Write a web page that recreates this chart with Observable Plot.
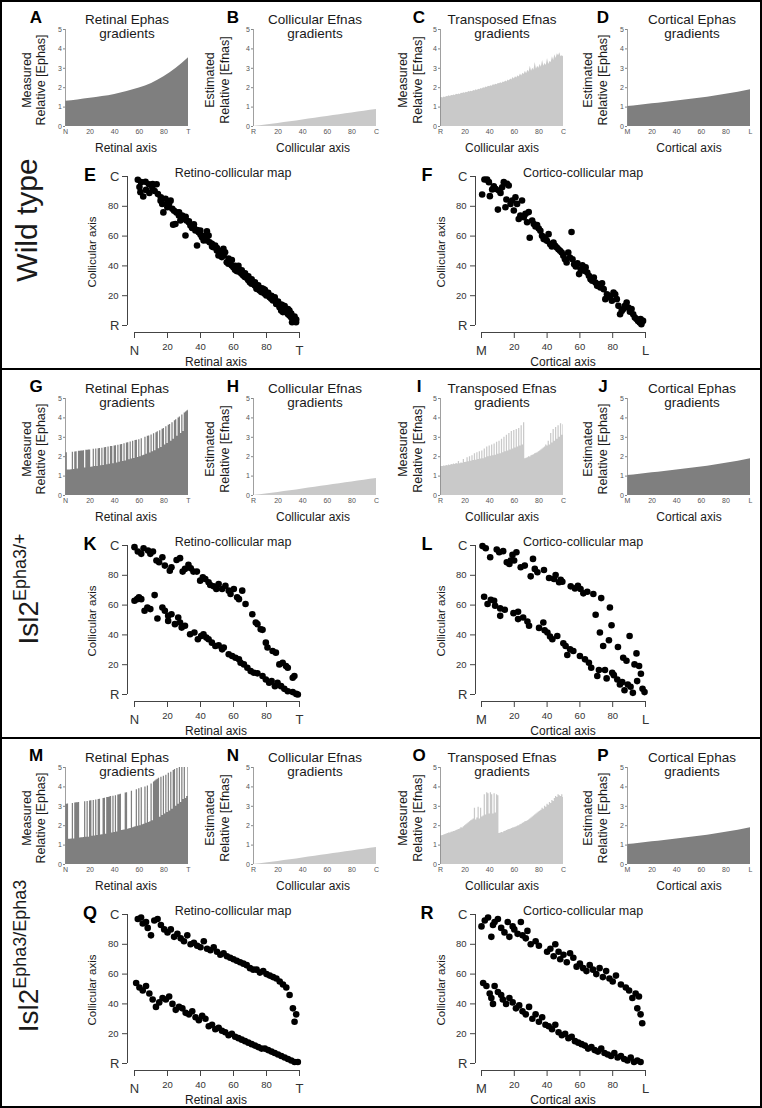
<!DOCTYPE html>
<html><head><meta charset="utf-8">
<script src="https://cdn.jsdelivr.net/npm/d3@7"></script>
<script src="https://cdn.jsdelivr.net/npm/@observablehq/plot@0.6"></script>
<style>
body{margin:0;background:#fff;}
#page{position:relative;width:762px;height:1108px;overflow:hidden;background:#fff;font-family:"Liberation Sans",Arial,Helvetica,sans-serif;}
.t{position:absolute;white-space:nowrap;line-height:1;font-weight:normal;}
#page svg{position:absolute;overflow:visible;}
.frame{position:absolute;left:0;top:0;width:762px;height:1108px;box-sizing:border-box;border:2px solid #000;pointer-events:none;}
.divider{position:absolute;left:0;width:762px;height:2px;background:#000;}
</style></head>
<body><div id="page"></div>
<script>
const FONT = '"Liberation Sans", Arial, Helvetica, sans-serif';
// ---------- tick labels ----------
const xTicks = [0, 20, 40, 60, 80, 100];
const retinalTickLabels = ["N", "20", "40", "60", "80", "T"];
const collicularTickLabels = ["R", "20", "40", "60", "80", "C"];
const corticalTickLabels = ["M", "20", "40", "60", "80", "L"];
const yTicksSmall = [0, 1, 2, 3, 4, 5];
const yTickLabelsSmall = ["0", "1", "2", "3", "4", "5"];
const mapEndTicks = [0, 100];
const mapMidTicks = [20, 40, 60, 80];
const mapMidLabels = ["20", "40", "60", "80"];
const mapYLabels = ["R", "C"];

// ---------- gradient data ----------
const smoothX = [0, 10, 20, 30, 40, 50, 60, 70, 80, 90, 100];
const retinalEphasWT = [1.30, 1.37, 1.45, 1.54, 1.65, 1.80, 1.98, 2.22, 2.56, 3.00, 3.55];
const collicularEfnas = [0.00, 0.08, 0.16, 0.24, 0.33, 0.42, 0.51, 0.60, 0.69, 0.78, 0.87];
const corticalEphas = [1.03, 1.10, 1.17, 1.24, 1.31, 1.39, 1.47, 1.56, 1.66, 1.77, 1.89];

const cellX = d3.range(101);
const transposedWT = [1.48,1.5,1.47,1.52,1.5,1.55,1.53,1.58,1.55,1.6,1.58,1.63,1.6,1.66,1.64,1.68,1.65,1.72,1.7,1.74,1.72,1.77,1.74,1.8,1.78,1.82,1.79,1.86,1.83,1.89,1.86,1.92,1.9,1.96,1.93,2.0,1.97,2.04,2.01,2.08,2.05,2.1,2.07,2.15,2.12,2.18,2.15,2.22,2.2,2.26,2.22,2.3,2.27,2.34,2.3,2.4,2.35,2.45,2.4,2.52,2.45,2.56,2.5,2.62,2.55,2.7,2.6,2.75,2.68,2.85,2.72,2.9,2.8,3.1,2.85,3.0,2.9,3.3,2.95,3.1,3.0,3.2,3.05,3.4,3.1,3.25,3.15,3.5,3.2,3.35,3.3,3.6,3.4,3.7,3.5,3.75,3.65,3.8,3.6,3.65,3.6];
const retinalEphasHet = [2.2,2.2,1.31,1.31,1.32,1.33,2.23,1.34,2.24,2.25,1.37,2.28,2.28,2.29,2.3,2.31,1.42,2.33,2.33,2.34,2.35,1.46,1.47,2.38,1.49,2.4,1.5,2.41,2.42,1.53,2.44,1.55,2.46,2.47,1.59,2.5,1.61,2.52,2.53,1.64,2.55,2.56,1.68,2.59,1.71,2.62,2.63,1.75,2.67,1.78,2.7,2.72,1.84,2.76,1.88,2.79,1.91,2.83,2.85,1.96,2.88,2.0,2.93,2.05,2.07,3.0,2.12,3.05,3.07,2.19,3.12,2.25,3.18,2.31,3.24,3.28,2.41,3.34,2.48,3.42,3.46,2.6,3.54,2.68,3.62,3.66,2.8,3.75,2.9,3.85,3.9,3.05,4.0,4.05,3.2,4.15,3.3,4.25,4.3,4.35,4.4];
const transposedHet = [1.48,1.5,1.49,1.52,1.51,1.55,1.53,1.57,1.55,1.6,1.58,1.62,1.6,1.65,1.62,1.75,1.64,1.68,1.66,1.85,1.7,1.72,1.95,1.74,2.0,1.77,2.05,1.8,2.15,1.82,2.2,1.85,2.25,1.88,2.3,1.9,2.4,1.95,2.5,2.0,2.55,2.02,2.6,2.05,2.65,2.08,2.75,2.12,2.8,2.15,2.9,2.2,3.0,2.25,3.1,2.3,3.2,2.35,3.3,2.4,3.35,2.45,3.4,2.5,3.45,2.55,3.6,2.6,3.75,1.9,1.92,1.95,2.0,1.98,2.05,2.08,2.1,2.15,2.18,2.2,2.25,2.3,2.35,2.4,2.45,2.5,2.6,2.55,2.8,2.6,3.2,2.7,3.4,2.8,3.5,2.9,3.6,3.0,3.7,3.1,3.65];
const retinalEphasHom = [3.1,3.1,3.12,1.3,1.3,1.31,3.15,1.32,3.17,3.18,3.18,3.2,1.37,1.38,1.38,1.39,3.23,1.4,3.25,1.41,3.27,3.28,1.45,3.3,1.47,3.32,1.49,3.35,3.36,1.52,1.53,3.4,3.42,1.56,3.45,3.46,3.48,3.5,1.62,3.52,1.65,3.55,1.68,3.58,3.6,3.62,1.75,1.77,1.78,3.68,3.7,1.82,1.84,1.86,3.78,1.9,1.92,1.94,3.85,1.97,3.9,2.0,3.95,2.05,2.07,4.0,2.12,4.05,2.17,2.2,4.15,2.25,4.25,4.3,4.35,4.4,4.45,2.44,4.5,2.52,4.55,2.6,4.6,2.68,4.7,2.76,4.75,2.85,4.85,4.9,3.0,4.95,3.1,5.0,3.2,5.0,3.35,5.0,3.4,3.5,5.0];
const transposedHom = [1.45,1.48,1.5,1.52,1.55,1.57,1.6,1.62,1.63,1.66,1.68,1.7,1.72,1.75,1.78,1.8,1.83,1.9,1.88,1.95,2.0,2.05,2.1,2.15,2.2,2.25,2.3,2.35,2.9,2.3,2.4,2.95,2.35,2.9,2.45,2.5,3.6,2.55,3.7,3.65,2.6,3.7,3.6,2.6,3.65,2.65,3.6,3.55,1.6,1.62,1.65,1.64,1.7,1.72,1.75,1.78,1.8,1.82,1.85,1.88,1.9,1.92,1.95,1.98,2.0,2.05,2.08,2.12,2.15,2.2,2.22,2.25,2.3,2.35,2.4,2.45,2.5,2.55,2.6,2.65,2.7,2.75,2.8,2.9,2.85,3.0,2.95,3.1,3.05,3.2,3.15,3.3,3.25,3.4,3.5,3.45,3.6,3.55,3.5,3.6,3.45];

// ---------- map data [source position, collicular position] ----------
const mapE = [[2,97.8],[4,96.2],[3.6,89.5],[5.3,86.6],[6.7,96.4],[8.8,94.8],[10.8,92.5],[12.2,90.3],[13.4,94.8],[14.2,88.2],[15.8,83.8],[16.8,81.5],[17.5,75.9],[18.8,85.1],[19.9,79.4],[20.9,81.5],[21.9,83.8],[22.9,78.3],[23.4,67.7],[24.8,68.1],[25.4,75.9],[26.9,73.8],[27.8,70.5],[28.9,73.8],[29.9,71.6],[30.9,60.4],[31.5,70.5],[32.9,69.3],[33.9,67.1],[34.9,65.5],[35.9,66.4],[36.9,63.8],[37.9,53.7],[38.9,62.6],[39.9,63.8],[40.9,59.3],[41.9,57],[42.9,58.2],[43.9,63.3],[44.9,60.4],[45.5,55.9],[46.9,54.8],[47.9,52.6],[48.9,53.7],[49.9,50.3],[50.9,47],[51.9,48.1],[52.9,45.9],[53.9,51.5],[54.9,49.2],[55.9,42.5],[56.9,41.4],[57.9,43.6],[58.9,40.3],[59.9,39.1],[60.9,37.4],[61.9,36.5],[62.9,38],[63.9,35.8],[64.9,34.7],[65.9,33.6],[66.9,32.5],[67.9,32],[68.9,30.6],[69.9,29.1],[70.9,28],[71.9,28.4],[72.9,26.8],[73.9,24.6],[74.9,25.7],[75.9,23.5],[76.9,22.4],[77.9,24.6],[78.9,21.3],[79.9,20.2],[80.9,21.7],[81.9,19],[82.9,17.9],[83.9,16.8],[84.9,17.3],[85.9,14.5],[86.9,15.7],[87.9,12.3],[88.9,10.1],[89.9,13.4],[90.9,11.2],[91.9,9],[92.9,7.8],[93.9,10.1],[94.9,5.6],[95.9,4.5],[96.9,3.4],[97.9,2.2],[95.5,2.2],[93.9,6.7],[89.9,9],[3,93],[7,91],[9,89],[11,95],[16,86],[20,82],[24,77],[27,76],[31,73],[33,70],[36,68],[38,64],[40,61],[42,60],[44,57],[47,53],[50,52],[52,50],[54,47],[57,45],[59,44],[61,40],[63,40],[65,37],[67,35],[69,33],[71,31],[73,29],[75,27],[77,25],[79,24],[81,22],[83,20],[85,19],[87,16],[89,14],[91,13],[93,11],[95,8],[97,6],[98,4]];
const mapF = [[0.4,87.9],[1.8,98],[3.4,97.9],[4.5,96.2],[5.1,86.8],[6.5,91.3],[7.5,93.5],[8.5,91.7],[10,77.8],[10.6,90.6],[11.6,89],[12.6,92.8],[13.6,96.2],[14.6,79.4],[15.6,95.1],[16.6,94],[15.2,84.6],[17.7,81.6],[18.7,83.9],[19.7,77.2],[20.7,86.1],[21.7,81.6],[22.7,71.5],[23.7,73.8],[24.7,83.9],[25.8,72.7],[26.8,74.9],[27.8,69.3],[28.8,76.1],[29.4,58.9],[30.9,70.4],[31.9,68.1],[32.9,66.5],[33.9,67.4],[34.9,65.1],[35.9,63.6],[36.9,60.2],[37.9,58],[38.9,59.1],[39.9,56.8],[40.9,61.3],[41.9,54.6],[42.9,53],[43.9,55.7],[44.9,53.5],[45.9,52.3],[46.9,51.2],[47.9,50.1],[48.9,49],[49.9,46.8],[50.9,44.5],[51.9,42.3],[52.9,49],[53.9,45.6],[54.9,62.8],[55.5,44.5],[56.5,41.1],[57.5,39.6],[58.5,41.8],[59.5,34.5],[60.5,37.8],[61.5,40.4],[62.5,36.7],[63.5,39],[64.5,35.6],[65.5,33.4],[66.5,31.1],[67.5,30],[68.5,32.2],[69.5,28.9],[70.5,26.6],[71.5,27.7],[72.5,25.5],[73.5,28.4],[74.5,24.4],[75.5,17.7],[76.5,21],[77.5,19.9],[78.5,18.8],[79.5,16.6],[80.5,22.1],[81.5,21],[82.5,17.7],[83.5,13.2],[84.5,7.6],[85.5,9.8],[86.5,11],[87.5,13.2],[88.5,15.4],[89.5,12.1],[90.5,9.2],[91.5,11],[92.5,7.6],[93.5,5.4],[94.5,4.3],[95.5,3.1],[96.5,2],[97.5,0.9],[98.5,3.1],[97,4.3]];
const mapK = [[0,98.9],[2,96],[4.1,94.4],[5.5,98.2],[8.2,96.6],[9.6,94.4],[11.2,96],[13.3,89.9],[14.9,88.8],[16.9,92.1],[18.4,86.5],[21.4,83.1],[22.4,85.4],[25.5,90.3],[27.6,91.5],[29.2,82.5],[30.6,84.3],[32.7,87],[34.1,84.7],[35.7,82.5],[37.8,82.5],[39.8,76.4],[41.4,78.7],[42.9,77.5],[44.9,75.3],[45.9,73.5],[48,72.6],[49.6,70.8],[51,74.2],[53.1,70.8],[55.1,73],[57.1,69.7],[58.2,67.4],[60.2,70.8],[62.2,65.2],[63.3,64],[65.3,69.7],[67.3,60.7],[71.4,53.9],[73.5,48.3],[74.5,47.2],[76.5,43.8],[77.6,43.4],[79.6,34.8],[80.6,31.5],[83.7,29.2],[85.7,28.1],[87.8,20.2],[89.8,21.3],[91.8,19.1],[92.9,18],[95.9,11.2],[96.9,12.4],
  [0,62.9],[1.6,64],[2.7,65.2],[4.1,64],[6.1,56.2],[7.8,58.4],[9.6,57.3],[12.2,66.7],[13.9,51],[16.9,58.4],[18.4,56.2],[20.4,52.8],[22.4,53.9],[20.4,49.4],[24.5,47.2],[26.5,51.7],[27.6,48.3],[28.6,44.9],[30.6,46.1],[33.7,40.4],[36.3,41.6],[38.4,37.1],[40.4,39.3],[41.8,40.4],[43.5,38.2],[44.9,37.1],[46.9,34.8],[49,32.6],[51,33],[53.1,30.3],[54.1,31.5],[57.1,27],[59.2,25.8],[61.2,24.7],[63.3,23.6],[64.3,21.3],[66.3,20.2],[68.4,18],[70.4,15.7],[72.4,14.6],[74.5,14.2],[77.6,12.4],[79.6,10.1],[81.6,7.9],[83.1,9],[85.1,5.6],[86.7,7.9],[88.8,5.6],[90.8,3.8],[92.9,2.2],[95.9,1.6],[98,0.4],[99,0]];
const mapL = [[0.6,99.6],[2.6,98.2],[5.3,92.1],[9.3,97.3],[10.8,95.5],[13.2,96.2],[15.4,88.8],[17,87.6],[17.8,89.9],[18.9,93.7],[19.9,89.9],[21.3,95.5],[23.9,85.4],[26.4,86.5],[30,79.3],[31.4,91],[32.5,84.3],[34.1,82],[38.1,83.6],[41.2,78.2],[44.2,77.5],[45.2,80.2],[47.3,75.3],[48.3,76.9],[49.3,75.7],[54.4,72.6],[57,71.2],[58.8,73],[60.4,70.8],[62.1,67.9],[64.5,69],[68.2,67.4],[69.6,53.5],[72.2,41.6],[73,64.7],[74.2,32.6],[77.7,36.4],[78.3,58.4],[79.3,46.5],[83.2,31.9],[86.4,24.7],[88.4,22.7],[90.3,39.3],[93.3,20.2],[94.5,27.6],[96.1,19.1],[97.2,13.9],[98.2,3.8],[99.4,1.6],
  [1.6,65.6],[3.7,60.7],[5.7,63.6],[7.7,62.9],[8.3,59.6],[11.4,57.8],[11.4,52.8],[14.2,56.9],[19.5,54.6],[22.3,55.5],[22.3,50.6],[25.4,51.7],[28,49],[29,46.1],[35.1,44.7],[37.7,48.3],[38.5,43.1],[40.2,41.6],[41.8,38.9],[43.2,37.1],[46.2,39.3],[49.9,34.4],[51.3,32.6],[52.3,26.5],[54,30.3],[56,29.2],[60,25.8],[63.1,23.6],[65.5,21.3],[66.9,18],[70.6,12.4],[71.6,16.4],[75.3,16.4],[76.3,10.8],[79.7,14.6],[80.7,13],[82.8,10.1],[84.4,6.7],[85.8,8.3],[87.2,2.9],[89.2,6.7],[90.9,5.2],[92.3,1.1],[94.9,9]];
const mapQ = [[2,97],[4,98],[5,94],[7,95],[8,91],[10,86],[12,96],[14,97],[16,93],[18,90],[20,88],[22,90],[24,85],[26,87],[28,84],[30,82],[32,86],[34,80],[36,81],[38,79],[40,78],[42,82],[44,77],[46,76],[48,78],[50,75],[52,73],[54,74],[56,72],[58,71],[60,70],[62,69],[64,68],[66,67],[68,66],[70,64],[72,63],[74,63],[76,61],[78,62],[80,60],[82,59],[84,58],[86,57],[88,55],[90,53],[92,51],[94,46],[96,37],[97,28],[98,33],
  [1,54],[3,51],[5,49],[7,52],[9,47],[11,43],[13,38],[15,41],[17,44],[19,43],[21,45],[23,40],[25,36],[27,38],[29,37],[31,34],[33,33],[35,35],[37,31],[39,29],[41,32],[43,30],[45,25],[47,26],[49,23],[51,24],[53,22],[55,21],[57,19],[59,20],[61,18],[63,17],[65,16],[67,15],[69,14],[71,13],[73,12],[75,11],[77,10],[79,10],[81,9],[83,8],[85,7],[87,6],[89,5],[91,4],[93,3],[95,2],[97,1],[99,1]];
const mapR = [[0,92],[2,96],[4,98],[6,85],[7,93],[8,95],[10,97],[12,91],[14,88],[16,95],[17,85],[19,92],[20,90],[22,87],[24,95],[25,86],[27,84],[28,89],[30,80],[33,82],[35,79],[40,75],[42,77],[44,72],[45,80],[47,75],[48,70],[50,73],[52,68],[54,74],[56,71],[58,65],[60,67],[62,64],[64,62],[66,66],[68,63],[70,60],[72,64],[74,58],[76,62],[78,57],[80,55],[82,59],[85,53],[88,51],[90,49],[92,44],[94,47],[95,37],[96,45],[97,33],[98,27],
  [1,54],[3,52],[5,47],[6,44],[7,40],[8,52],[10,48],[12,46],[13,43],[15,40],[17,44],[19,41],[21,37],[23,39],[25,35],[27,33],[29,38],[31,30],[33,33],[35,28],[37,31],[39,26],[41,25],[43,23],[45,26],[47,21],[49,19],[51,20],[53,17],[55,18],[57,15],[59,14],[61,13],[63,12],[65,10],[67,11],[69,9],[71,8],[73,10],[75,7],[77,6],[79,5],[81,7],[83,4],[85,5],[87,3],[89,2],[91,4],[93,1],[95,2],[97,1]];

// ---------- colours ----------
const DARK = "#7f7f7f", LIGHT = "#c9c9c9";

const page = document.getElementById("page");

function label(text, x, y, size, opt = {}) {
  const d = document.createElement("div");
  d.className = "t";
  d.style.left = x + "px"; d.style.top = y + "px";
  d.style.fontSize = size + "px";
  if (opt.bold) d.style.fontWeight = "bold";
  d.style.color = opt.color || "#1a1a1a";
  d.style.transform = opt.rotate ? "translate(-50%,-50%) rotate(-90deg)" : "translate(-50%,-50%)";
  if (opt.html) d.innerHTML = text; else d.textContent = text;
  page.appendChild(d);
}

function place(svg, left, top) {
  svg.style.left = left + "px"; svg.style.top = top + "px";
  page.appendChild(svg);
}

// small gradient chart: plot area left..left+123, top..top+97
function smallChart(xs, values, color, curve, left, top, tickLabels) {
  const data = values.map((v, i) => ({x: xs[i], y: v}));
  const ml = 22, mr = 8, mt = 8, mb = 18, W = 123, H = 97;
  const svg = Plot.plot({
    width: W + ml + mr, height: H + mt + mb,
    marginLeft: ml, marginRight: mr, marginTop: mt, marginBottom: mb,
    style: {fontFamily: FONT, background: "transparent", color: "#555", overflow: "visible"},
    x: {domain: [0, 100]}, y: {domain: [0, 5]},
    marks: [
      Plot.areaY(data, {x: "x", y: "y", fill: color, curve}),
      Plot.ruleX([0], {stroke: "#888", strokeWidth: 0.8}),
      Plot.axisY({ticks: yTicksSmall, tickFormat: d => yTickLabelsSmall[yTicksSmall.indexOf(d)], tickSize: 2, tickPadding: 1.5, fontSize: 7, stroke: "#888", label: null}),
      Plot.axisX({ticks: xTicks, tickFormat: d => tickLabels[xTicks.indexOf(d)], tickSize: 0, tickPadding: 3, fontSize: 7, label: null})
    ]
  });
  place(svg, left - ml, top - mt);
}

// map scatter: y axis line at axisX; data x from x0 to x1; C at top; R at top+149; x-axis line at top+156
function mapChart(points, axisX, x0, x1, top, xEndLabels) {
  const ml = 40, mr = 10, mt = 8, mb = 40;
  const svg = Plot.plot({
    width: ml + (x1 - axisX) + mr, height: mt + 156 + mb,
    marginLeft: ml, marginRight: mr, marginTop: mt, marginBottom: mb,
    style: {fontFamily: FONT, background: "transparent", color: "#333", overflow: "visible"},
    x: {domain: [0, 100], insetLeft: x0 - axisX},
    y: {domain: [0, 100], insetBottom: 7},
    marks: [
      Plot.ruleX([0], {y1: 0, y2: 100, dx: -(x0 - axisX), stroke: "#444"}),
      Plot.ruleY([0], {x1: 0, x2: 100, dy: 7, stroke: "#444"}),
      Plot.axisY({ticks: mapEndTicks, tickFormat: d => mapYLabels[mapEndTicks.indexOf(d)], tickSize: 5, tickPadding: 3, fontSize: 13, stroke: "#444", label: null}),
      Plot.axisY({ticks: mapMidTicks, tickFormat: d => mapMidLabels[mapMidTicks.indexOf(d)], tickSize: 5, tickPadding: 4, fontSize: 9.5, stroke: "#444", label: null}),
      Plot.axisX({ticks: mapEndTicks, tickFormat: d => xEndLabels[mapEndTicks.indexOf(d)], tickSize: 6, tickPadding: 7, fontSize: 13, stroke: "#444", label: null}),
      Plot.axisX({ticks: mapMidTicks, tickFormat: d => mapMidLabels[mapMidTicks.indexOf(d)], tickSize: 6, tickPadding: 5, fontSize: 9.5, stroke: "#444", label: null}),
      Plot.dot(points, {x: d => d[0], y: d => d[1], r: 3.3, fill: "#000"})
    ]
  });
  place(svg, axisX - ml, top - mt);
}

const cols = [
  {left: 65, letterX: 36, titleX: 127, ylx: [27, 41], xlabX: 126},
  {left: 253, letterX: 233, titleX: 315, ylx: [210, 225], xlabX: 313},
  {left: 440, letterX: 419, titleX: 502, ylx: [403, 418], xlabX: 502},
  {left: 627, letterX: 603, titleX: 692, ylx: [588, 603], xlabX: 689}
];
const colTitles = ["Retinal  Ephas", "Collicular  Efnas", "Transposed  Efnas", "Cortical  Ephas"];
const colYLabels = [["Measured", "Relative  [Ephas]"], ["Estimated", "Relative  [Efnas]"], ["Measured", "Relative  [Efnas]"], ["Estimated", "Relative  [Ephas]"]];
const colXLabels = ["Retinal axis", "Collicular axis", "Collicular axis", "Cortical axis"];
const colTickLabels = [retinalTickLabels, collicularTickLabels, collicularTickLabels, corticalTickLabels];

const bands = [
  {letters: ["A", "B", "C", "D", "E", "F"], series: [[smoothX, retinalEphasWT, DARK, "monotone-x"], [smoothX, collicularEfnas, LIGHT, "monotone-x"], [cellX, transposedWT, LIGHT, "linear"], [smoothX, corticalEphas, DARK, "monotone-x"]], maps: [mapE, mapF],
   rowLabel: "Wild type"},
  {letters: ["G", "H", "I", "J", "K", "L"], series: [[cellX, retinalEphasHet, DARK, "step"], [smoothX, collicularEfnas, LIGHT, "monotone-x"], [cellX, transposedHet, LIGHT, "step"], [smoothX, corticalEphas, DARK, "monotone-x"]], maps: [mapK, mapL],
   rowLabel: 'Isl2<span style="font-size:18px;vertical-align:12px">Epha3/+</span>'},
  {letters: ["M", "N", "O", "P", "Q", "R"], series: [[cellX, retinalEphasHom, DARK, "step"], [smoothX, collicularEfnas, LIGHT, "monotone-x"], [cellX, transposedHom, LIGHT, "step"], [smoothX, corticalEphas, DARK, "monotone-x"]], maps: [mapQ, mapR],
   rowLabel: 'Isl2<span style="font-size:18px;vertical-align:12px">Epha3/Epha3</span>'}
];

bands.forEach((b, bi) => {
  const oy = bi * 369;
  cols.forEach((c, ci) => {
    const [xs, vals, color, curve] = b.series[ci];
    smallChart(xs, vals, color, curve, c.left, oy + 29, colTickLabels[ci]);
    label(b.letters[ci], c.letterX, oy + 17, 17, {bold: true, color: "#000"});
    label(colTitles[ci], c.titleX, oy + 20, 13.5);
    label("gradients", c.titleX, oy + 34, 13.5);
    label(colYLabels[ci][0], c.ylx[0], oy + 80, 12.5, {rotate: true});
    label(colYLabels[ci][1], c.ylx[1], oy + 80, 12.5, {rotate: true});
    label(colXLabels[ci], c.xlabX, oy + 148, 12);
  });
  // maps
  mapChart(b.maps[0], 127, 134, 299, oy + 176, ["N", "T"]);
  mapChart(b.maps[1], 475, 481, 645, oy + 176, ["M", "L"]);
  label(b.letters[4], 90, oy + 175, 18, {bold: true, color: "#000"});
  label(b.letters[5], 427, oy + 175, 18, {bold: true, color: "#000"});
  label("Retino-collicular  map", 233, oy + 173, 12.5);
  label("Cortico-collicular  map", 583, oy + 173, 12.5);
  label("Collicular axis", 93, oy + 252, 11.5, {rotate: true});
  label("Collicular axis", 442, oy + 252, 11.5, {rotate: true});
  label("Retinal axis", 216, oy + 362, 12);
  label("Cortical axis", 563, oy + 362, 12);
  label(b.rowLabel, 27, oy + (bi === 2 ? 218 : 220), bi === 0 ? 30 : 28, {rotate: true, html: true});
  if (bi > 0) {
    const d = document.createElement("div");
    d.className = "divider"; d.style.top = (oy - 1) + "px";
    page.appendChild(d);
  }
});
const fr = document.createElement("div"); fr.className = "frame"; page.appendChild(fr);
</script>
</body></html>
